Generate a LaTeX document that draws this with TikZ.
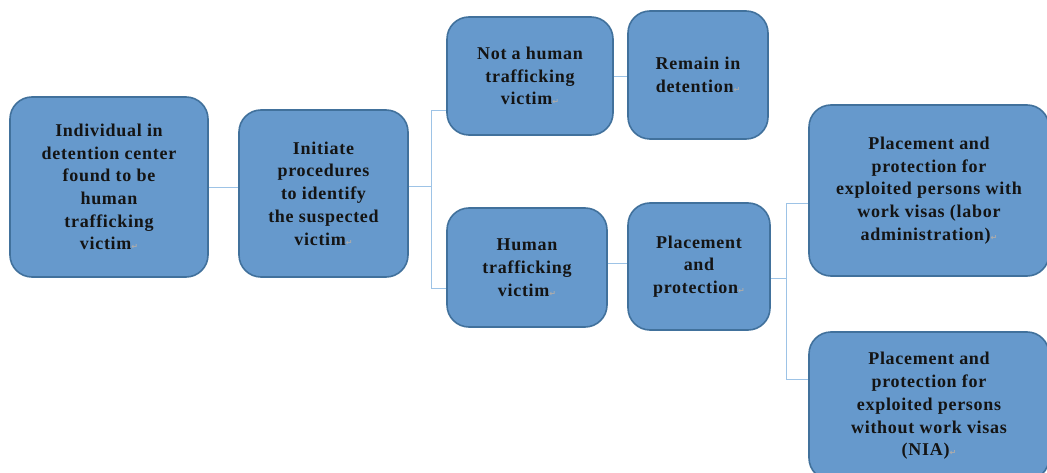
\documentclass[tikz,border=0pt]{standalone}
\usepackage{fontspec}
\setmainfont{Liberation Serif}
\newfontfamily\boxfont{Liberation Serif}[LetterSpace=4]
\newfontfamily\markfont{DejaVu Sans}

\definecolor{boxfill}{RGB}{102,153,204}
\definecolor{boxline}{RGB}{65,113,156}
\definecolor{linkcol}{RGB}{157,195,230}

% paragraph mark after the last line of a box
\newcommand{\pmark}{{\markfont\fontsize{8}{8}\selectfont\color{gray!65}↵}}

\tikzset{
  stage/.style={draw=boxline, fill=boxfill, line width=1.6pt, rounded corners=22pt,
    align=center, inner sep=0pt, text=black!92,
    font=\boxfont\fontsize{18}{22.7}\selectfont\bfseries},
  link/.style={draw=linkcol, line width=0.9pt},
}

\begin{document}
\begin{tikzpicture}[x=1pt, y=-1pt]
\useasboundingbox (0,0) rectangle (1047,473);
\clip (0,0) rectangle (1047,473);

%first two steps
\node[stage, minimum width=198, minimum height=180] (ind) at (109,187)
  {Individual in\\detention center\\found to be\\human\\trafficking\\victim\pmark};
\node[stage, minimum width=169, minimum height=167] (init) at (323.5,193.5)
  {Initiate\\procedures\\to identify\\the suspected\\victim\pmark};

%outcome of the identification
\node[stage, minimum width=166, minimum height=118] (notv) at (530,76)
  {Not a human\\trafficking\\victim\pmark};
\node[stage, minimum width=140, minimum height=128] (remain) at (698,75)
  {Remain in\\detention\pmark};
\node[stage, minimum width=160, minimum height=119] (htv) at (527,267.5)
  {Human\\trafficking\\victim\pmark};
\node[stage, minimum width=142, minimum height=127] (place) at (699,266.5)
  {Placement\\and\\protection\pmark};

%placement by visa status
\node[stage, minimum width=240, minimum height=171] (visa) at (929,190.5)
  {Placement and\\protection for\\exploited persons with\\work visas (labor\\administration)\pmark};
\node[stage, minimum width=240, minimum height=148] (novisa) at (929,406)
  {Placement and\\protection for\\exploited persons\\without work visas\\(NIA)\pmark};

%connectors
\coordinate (fork1) at (431,186);
\coordinate (fork2) at (786,278);
\draw[link] (ind.east) -- (ind.east -| init.west);
\draw[link] (init.east |- fork1) -- (fork1);
\draw[link] (fork1) |- (notv.west |- 0,110);
\draw[link] (fork1) |- (htv.west |- 0,288);
\draw[link] (notv.east) -- (notv.east -| remain.west);
\draw[link] (htv.east |- 0,263) -- (place.west |- 0,263);
\draw[link] (place.east |- fork2) -- (fork2);
\draw[link] (fork2) |- (visa.west |- 0,203);
\draw[link] (fork2) |- (novisa.west |- 0,379);
\end{tikzpicture}
\end{document}
